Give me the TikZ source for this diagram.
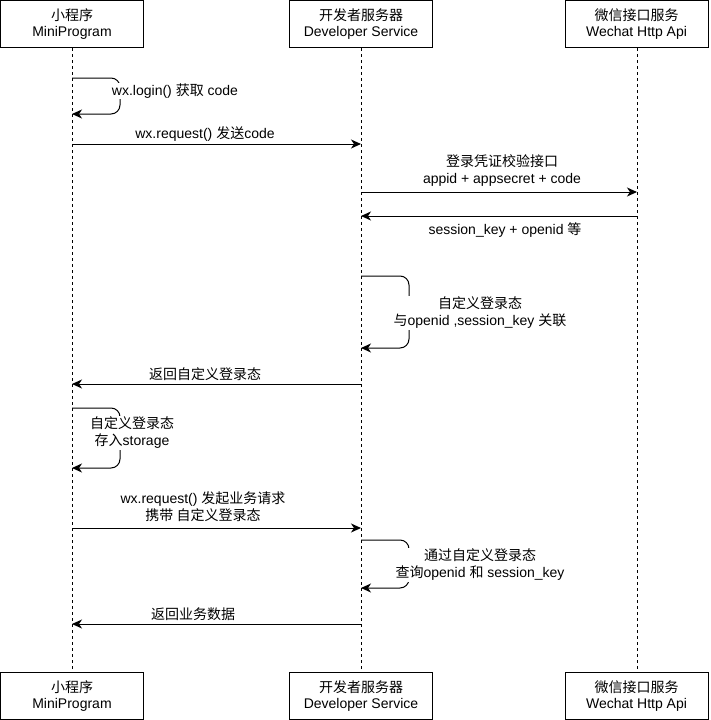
\documentclass[tikz,border=0pt]{standalone}
\usepackage{fontspec}
\setmainfont{Liberation Sans}
\newfontfamily\cjk{Noto Sans CJK SC}
\newcommand{\zh}[1]{{\cjk #1}}
\usetikzlibrary{arrows.meta}
\begin{document}
\begin{tikzpicture}[x=1pt,y=-1pt,
  actor/.style={draw,line width=1pt,minimum width=143pt,minimum height=47pt,inner sep=0pt,align=center,font=\fontsize{14}{16.5}\selectfont},
  life/.style={line width=0.9pt,dash pattern=on 3pt off 3pt},
  msg/.style={line width=1pt,-{Stealth[length=10pt,width=9pt,inset=3pt]}},
  loopmsg/.style={msg,rounded corners=9pt},
  lbl/.style={font=\fontsize{14}{17}\selectfont,align=center,inner sep=1pt,fill=white},
]
\useasboundingbox (0,0) rectangle (710,720);
% actors
\node[actor] (mpT) at (72,24) {\zh{小程序}\\MiniProgram};
\node[actor] (dsT) at (361,24) {\zh{开发者服务器}\\Developer Service};
\node[actor] (wxT) at (636.5,24) {\zh{微信接口服务}\\Wechat Http Api};
\node[actor] (mpB) at (72,696) {\zh{小程序}\\MiniProgram};
\node[actor] (dsB) at (361,696) {\zh{开发者服务器}\\Developer Service};
\node[actor] (wxB) at (636.5,696) {\zh{微信接口服务}\\Wechat Http Api};
% lifelines
\draw[life] (mpT.south) -- (mpB.north);
\draw[life] (dsT.south) -- (dsB.north);
\draw[life] (wxT.south -| 637,0) -- (wxB.north -| 637,0);
% coordinates on lifelines
\coordinate (a1) at (72,78);
\coordinate (a2) at (72,114);
\coordinate (b1) at (72,144);
\coordinate (b2) at (361,144);
\coordinate (c1) at (361,192);
\coordinate (c2) at (637,192);
\coordinate (d1) at (637,216);
\coordinate (d2) at (361,216);
\coordinate (e1) at (361,276);
\coordinate (e2) at (361,348);
\coordinate (f1) at (361,384);
\coordinate (f2) at (72,384);
\coordinate (g1) at (72,408);
\coordinate (g2) at (72,468);
\coordinate (h1) at (72,528);
\coordinate (h2) at (361,528);
\coordinate (i1) at (361,540);
\coordinate (i2) at (361,588);
\coordinate (j1) at (361,624);
\coordinate (j2) at (72,624);
% messages
\draw[loopmsg] (a1) -- (120,78) -- (120,114) -- (a2);
\node[lbl] (la) at (175,91) {wx.login() \zh{获取} code};
\draw[msg] (b1) -- (b2);
\node[lbl] (lb) at (205,134) {wx.request() \zh{发送}code};
\draw[msg] (c1) -- (c2);
\node[lbl] (lc) at (502,171) {\zh{登录凭证校验接口}\\appid + appsecret + code};
\draw[msg] (d1) -- (d2);
\node[lbl] (ld) at (505,230) {session\_key + openid \zh{等}};
\draw[loopmsg] (e1) -- (409,276) -- (409,348) -- (e2);
\node[lbl] (le) at (480,313) {\zh{自定义登录态}\\\zh{与}openid ,session\_key \zh{关联}};
\draw[msg] (f1) -- (f2);
\node[lbl] (lf) at (205,374) {\zh{返回自定义登录态}};
\draw[loopmsg] (g1) -- (120,408) -- (120,468) -- (g2);
\node[lbl] (lg) at (132,433) {\zh{自定义登录态}\\\zh{存入}storage};
\draw[msg] (h1) -- (h2);
\node[lbl] (lh) at (203,507) {wx.request() \zh{发起业务请求}\\\zh{携带 自定义登录态}};
\draw[loopmsg] (i1) -- (409,540) -- (409,588) -- (i2);
\node[lbl] (li) at (480,565) {\zh{通过自定义登录态}\\\zh{查询}openid \zh{和} session\_key};
\draw[msg] (j1) -- (j2);
\node[lbl] (lj) at (193,614) {\zh{返回业务数据}};
\end{tikzpicture}
\end{document}
